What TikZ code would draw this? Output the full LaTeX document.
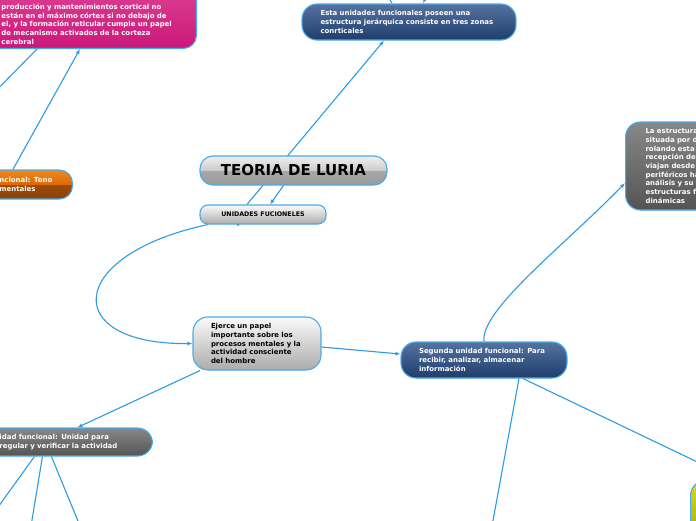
\documentclass[tikz,border=0pt]{standalone}
\usepackage{fontspec}
\setmainfont{DejaVu Sans}
\usepackage{xcolor}
\usepackage{tikz}
\usetikzlibrary{calc,arrows.meta,backgrounds}
\definecolor{linkBlue}{HTML}{2D9BE3}
\definecolor{edgeBlue}{HTML}{4BAAE8}
\definecolor{navyTop}{HTML}{56739F}
\definecolor{navyBot}{HTML}{1E3D6D}
\definecolor{pinkTop}{HTML}{DC3F92}
\definecolor{pinkBot}{HTML}{CB187A}
\definecolor{slateTop}{HTML}{888888}
\definecolor{slateBot}{HTML}{545454}
\definecolor{paleTop}{HTML}{FBFBFB}
\definecolor{paleBot}{HTML}{ABABAB}
\definecolor{oliveTop}{HTML}{D8D826}
\definecolor{oliveBot}{HTML}{A8A812}
\definecolor{glossA}{HTML}{F0F0F0}
\definecolor{glossB}{HTML}{CBCBCB}
\definecolor{glossC}{HTML}{A8A8A8}
\definecolor{glossD}{HTML}{9A9A9A}
\definecolor{amberA}{HTML}{F0881C}
\definecolor{amberB}{HTML}{DB6A06}
\definecolor{amberC}{HTML}{9A4C08}
\definecolor{amberD}{HTML}{8A4205}
\pgfdeclareverticalshading{glossgray}{100bp}{color(0bp)=(glossD); color(25bp)=(glossD); color(49.6bp)=(glossC); color(50bp)=(glossB); color(75bp)=(glossA); color(100bp)=(glossA)}
\pgfdeclareverticalshading{glossamber}{100bp}{color(0bp)=(amberD); color(25bp)=(amberD); color(49.6bp)=(amberC); color(50bp)=(amberB); color(75bp)=(amberA); color(100bp)=(amberA)}
\newcommand\mapfont{\fontsize{6.95}{8.7}\selectfont\bfseries}

\begin{document}
\begin{tikzpicture}[x=1pt, y=-1pt,
    box/.style={draw=edgeBlue, line width=1.1pt, rounded corners=15pt, align=left, font=\mapfont, inner ysep=3pt},
    navybox/.style={box, top color=navyTop, bottom color=navyBot, text=white},
    slatebox/.style={box, top color=slateTop, bottom color=slateBot, text=white},
    pinkbox/.style={box, top color=pinkTop, bottom color=pinkBot, text=white, rounded corners=13pt},
    palebox/.style={box, top color=paleTop, bottom color=paleBot, text=black},
    amberbox/.style={box, shading=glossamber, text=white, rounded corners=13pt},
    glossbox/.style={box, shading=glossgray, text=black, rounded corners=13pt, align=center},
    olivebox/.style={box, top color=oliveTop, bottom color=oliveBot},
    link/.style={line width=1.1pt, draw=linkBlue},
    arr/.style={link, -{Latex[length=5pt, width=4pt]}}
]
\path[use as bounding box] (0,0) rectangle (696,520);
\clip (0,0) rectangle (696,520);
% Nodes
\node[pinkbox, anchor=south east, text width=176pt, inner xsep=19pt, inner ysep=4pt] (reticular) at (197,49) {\mbox{}\\\mbox{}\\producción y mantenimientos cortical no\\están en el máximo córtex si no debajo de\\el, y la formación reticular cumple un papel\\de mecanismo activados de la corteza\\cerebral};
\node[navybox, text width=177pt, inner xsep=18.5pt, minimum height=36pt] (zonas) at (409,22) {Esta unidades funcionales poseen una\\estructura jerárquica consiste en tres zonas\\conrticales};
\node[amberbox, anchor=east, text width=55pt, inner xsep=18pt, minimum height=29pt] (tono) at (73,184.5) {ncional: Tono\\mentales};
\node[glossbox, minimum width=187pt, minimum height=29pt, font=\fontsize{15}{18}\selectfont\bfseries] (teoria) at (293.5,170.5) {TEORIA DE LURIA};
\node[palebox, align=center, minimum width=126pt, minimum height=19pt, rounded corners=8pt, font=\fontsize{6.3}{8.7}\selectfont\bfseries] (unidades) at (263,214.5) {UNIDADES FUCIONELES};
\node[palebox, text width=92pt, inner xsep=18pt, minimum height=53pt] (papel) at (257,343.5) {Ejerce un papel\\importante sobre los\\procesos mentales y la\\actividad consciente\\del hombre};
\node[navybox, text width=130pt, inner xsep=18pt, minimum height=36pt] (segunda) at (484,360) {Segunda unidad funcional: Para\\recibir, analizar, almacenar\\información};
\node[slatebox, anchor=east, text width=133pt, inner xsep=20pt, minimum height=28pt] (tercera) at (153,442) {idad funcional: Unidad para\\regular y verificar la actividad};
\node[slatebox, anchor=west, text width=100pt, inner xsep=20pt, minimum height=88pt] (estructura) at (625,166) {La estructura\\situada por d\\rolando esta\\recepción de\\viajan desde\\periféricos ha\\análisis y su\\estructuras f\\dinámicas};
\node[olivebox, anchor=north west, minimum width=80pt, minimum height=60pt] (amarilla) at (690,480) {};
% Free ends off the page
\coordinate (retOut) at (-20,107);
\coordinate (zonasOutA) at (384,-12);
\coordinate (zonasOutB) at (431,-14);
\coordinate (segOut) at (492,526);
\coordinate (terOutA) at (-12,521);
\coordinate (terOutB) at (31,526);
\coordinate (terOutC) at (80,526);
% Arrows
\begin{pgfonlayer}{background}
\fill[white] (0,0) rectangle (696,520);
\draw[link] ([xshift=-160pt]reticular.south east) -- (retOut);
\draw[arr] ([xshift=32pt]tono.north west) -- ([xshift=-117pt]reticular.south east);
\draw[link] ([xshift=-17pt]zonas.north) -- (zonasOutA);
\draw[arr] (zonasOutB) -- ([xshift=14pt]zonas.north);
\draw[arr] ([xshift=-16pt]unidades.north) -- ([xshift=-25pt]zonas.south);
\draw[arr] ([xshift=-10pt]teoria.south) -- ([xshift=7pt]unidades.north);
\fill[linkBlue] ([xshift=-25pt]unidades.south) circle (1.6pt);
\draw[arr] ([xshift=-55pt]unidades.south) .. controls (65,255) and (60,345) .. (papel.west);
\draw[arr] ([yshift=-3.5pt]papel.east) -- ([yshift=6pt]segunda.west);
\draw[arr] ([xshift=-57pt]papel.south) -- ([xshift=11.5pt]tercera.north);
\draw[arr] (segunda.north) .. controls (480,310) and (565,245) .. ([yshift=-17pt]estructura.west);
\draw[arr] ([xshift=35pt]segunda.south) -- (segOut);
\draw[arr] ([xshift=39pt]segunda.south) -- ([xshift=45pt]amarilla.north west);
\draw[link] ([xshift=-31.5pt]tercera.south) -- (terOutA);
\draw[link] ([xshift=-23.5pt]tercera.south) -- (terOutB);
\draw[link] ([xshift=-14.5pt]tercera.south) -- (terOutC);
\end{pgfonlayer}
\end{tikzpicture}
\end{document}
